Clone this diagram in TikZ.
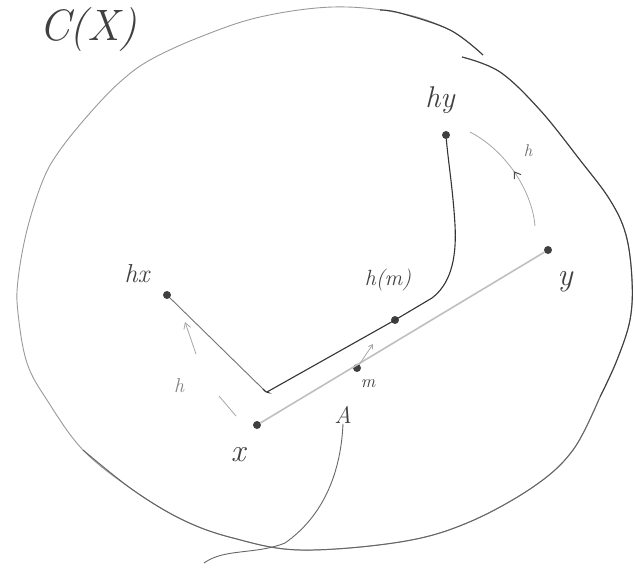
\documentclass[tikz,border=0pt]{standalone}
\usetikzlibrary{arrows.meta,decorations.markings}
\begin{document}
\begin{tikzpicture}[x=1pt,y=-1pt,
  dot/.style={circle,fill=black!75,inner sep=0pt,minimum size=8pt},
  lbl/.style={text=black!75,inner sep=0pt},
  faint/.style={draw=black!35,line width=0.8pt},
  midarrow/.style={decoration={markings,mark=at position 0.5 with {\arrow[black!70,line width=1pt]{Straight Barb[length=6pt,width=8pt]}}},postaction={decorate}}]
\useasboundingbox (0,0) rectangle (635,573);
% outline of C(X)
\draw[black!40,line width=0.9pt] plot[smooth,tension=0.6] coordinates {(483,55) (450,30) (400,13) (333,7) (260,17) (200,37) (150,60) (120,82) (90,113) (60,150) (43,180) (27,230) (18,280) (18,313) (27,363) (47,400) (83,450) (133,490) (183,520) (233,538) (300,550) (400,542) (467,523) (533,487) (573,450) (600,397) (617,360) (630,320) (632,280) (626,235) (610,200) (580,160) (540,110) (500,72) (462,57)};
\draw[black!75,line width=1.1pt] plot[smooth,tension=0.6] coordinates {(380,10) (400,13) (450,30) (483,55)};
\draw[black!75,line width=1.1pt] plot[smooth,tension=0.6] coordinates {(462,57) (500,72) (540,110) (580,160) (610,200) (626,235) (632,280) (630,320) (617,360) (600,397)};
\draw[black!60,line width=1pt] plot[smooth,tension=0.6] coordinates {(83,450) (133,490) (183,520) (233,538) (300,550) (400,542) (467,523) (533,487) (573,450) (600,397)};
% points
\node[dot] (hx) at (167,295) {};
\node[dot] (hy) at (446,135) {};
\node[dot] (hm) at (395,320) {};
\node[dot] (x) at (257,425) {};
\node[dot] (m) at (357,368) {};
\node[dot] (y) at (548,250) {};
\coordinate (c) at (267,392);
% segment x--y
\draw[black!25,line width=1.6pt] (x) -- (y);
% path hx -- corner -- h(m) -- hy
\draw[black!55,line width=0.9pt] (hx) -- (263,389);
\draw[black!80,line width=1.1pt] (263,389) .. controls (266,393) and (270,393) .. (c) -- (hm.center) -- (432,298) .. controls (449,285) and (457,262) .. (455,225) .. controls (453,190) and (448,160) .. (hy);
% arrow h: x -> hx
\coordinate (hxa1) at (236,416);
\coordinate (hxa2) at (219,396);
\coordinate (hxa3) at (196,354);
\coordinate (hxa4) at (185,322);
\draw[faint] (hxa1) -- (hxa2);
\draw[faint,-{Straight Barb[length=6pt,width=7pt]}] (hxa3) -- (hxa4);
% arrow h: y -> hy
\coordinate (hya1) at (535,226);
\coordinate (hya2) at (470,132);
\draw[faint,midarrow] (hya1) .. controls (532,190) and (505,150) .. (hya2);
% arrow h: m -> h(m)
\coordinate (ma) at (373,344);
\draw[faint,-{Straight Barb[length=4pt,width=5pt]}] (m) -- (ma);
% labels
\node[lbl,font=\fontsize{44}{44}\selectfont\itshape] (cx) at (88,30) {C(X)};
\node[lbl,font=\fontsize{30}{30}\selectfont\itshape] (lhy) at (440,100) {hy};
\node[lbl,font=\fontsize{26}{26}\selectfont\itshape] (lhx) at (137,274) {hx};
\node[lbl,font=\fontsize{22}{22}\selectfont\itshape] (lhm) at (388,280) {h(m)};
\node[lbl,font=\fontsize{18}{18}\selectfont\itshape] (lm) at (368,384) {m};
\node[lbl,font=\fontsize{32}{32}\selectfont\itshape] (lx) at (238,455) {x};
\node[lbl,font=\fontsize{32}{32}\selectfont\itshape] (ly) at (565,282) {y};
\node[lbl,font=\fontsize{24}{24}\selectfont\itshape] (A) at (343,415) {A};
\node[lbl,font=\fontsize{20}{20}\selectfont\itshape,text=black!50] (h1) at (179,386) {h};
\node[lbl,font=\fontsize{17}{17}\selectfont\itshape,text=black!60] (h2) at (528,151) {h};
% curve from A leaving the set
\coordinate (tail) at (204,563);
\draw[black!60,line width=0.9pt] (A.south) .. controls (341,470) and (325,515) .. (285,543) .. controls (255,555) and (225,548) .. (tail);
\end{tikzpicture}
\end{document}
